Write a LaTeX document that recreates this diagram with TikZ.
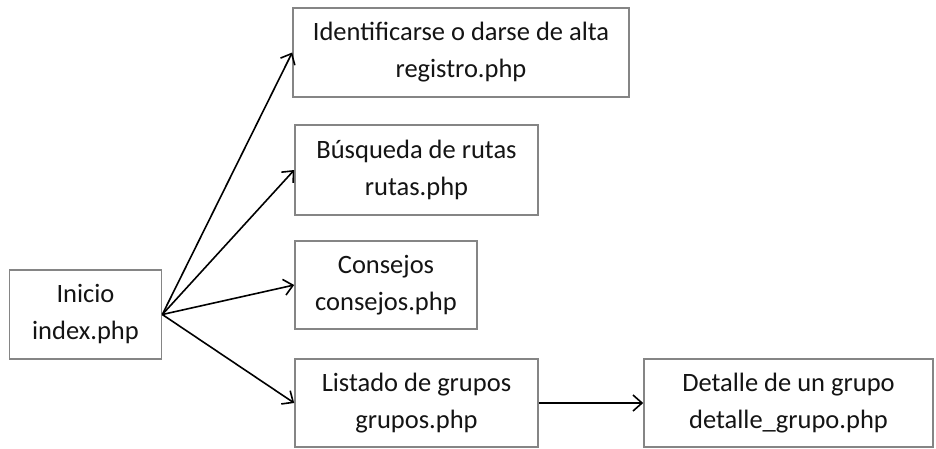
\documentclass[tikz,border=0pt]{standalone}
\usepackage{fontspec}
\setmainfont{Carlito}
\usetikzlibrary{arrows.meta}
\definecolor{boxline}{HTML}{858585}
\definecolor{txt}{HTML}{141414}
\begin{document}
\begin{tikzpicture}[x=1pt,y=-1pt,
  pbox/.style={draw=boxline, line width=1.6pt, fill=white, align=center,
    text=txt, inner sep=0pt,
    font=\fontsize{26.5pt}{37pt}\selectfont},
  conn/.style={draw=black, line width=1.6pt,
    -{Straight Barb[length=9pt,width=16pt,line width=1.6pt]}}]
\useasboundingbox (0,0) rectangle (936,448);
\node[pbox, minimum width=152pt, minimum height=89pt] (ini) at (85.5,314.5) {Inicio\\index.php};
\node[pbox, minimum width=336pt, minimum height=89pt] (reg) at (461,52.5) {Identificarse o darse de alta\\registro.php};
\node[pbox, minimum width=243pt, minimum height=90pt] (bus) at (416.5,170) {Búsqueda de rutas\\rutas.php};
\node[pbox, minimum width=182pt, minimum height=88pt] (con) at (386,285) {Consejos\\consejos.php};
\node[pbox, minimum width=243pt, minimum height=88pt] (gru) at (416.5,403) {Listado de grupos\\grupos.php};
\node[pbox, minimum width=289pt, minimum height=88pt] (det) at (788.5,403) {Detalle de un grupo\\detalle\_grupo.php};
\draw[conn] (ini.east) -- (reg.west);
\draw[conn] (ini.east) -- (bus.west);
\draw[conn] (ini.east) -- (con.west);
\draw[conn] (ini.east) -- (gru.west);
\draw[conn] (gru.east) -- (det.west);
\end{tikzpicture}
\end{document}
